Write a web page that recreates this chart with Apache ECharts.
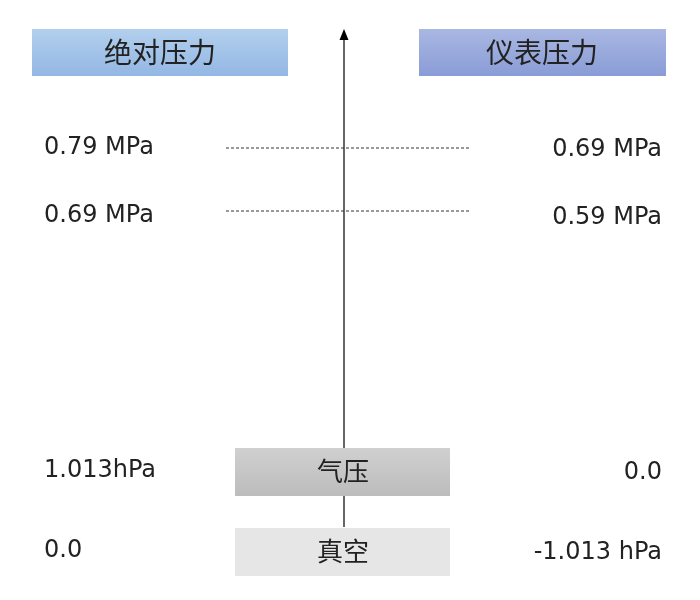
<!DOCTYPE html><html><head><meta charset="utf-8"><script src="https://cdn.jsdelivr.net/npm/echarts@6/dist/echarts.min.js"></script>
<style>html,body{margin:0;background:#fff}#c{width:700px;height:600px}</style></head><body><div id="c"></div><script>
const headers=['绝对压力','仪表压力'];
const leftLabels=['0.79 MPa','0.69 MPa','1.013hPa','0.0'];
const rightLabels=['0.69 MPa','0.59 MPa','0.0','-1.013 hPa'];
const boxLabels=['气压','真空'];
const rowY=[148,216,471,551];
const dashY=[148,211];
const F='"Noto Sans CJK SC",sans-serif';
const N='"DejaVu Sans",sans-serif';
const g=[];
function grad(a,b){return new echarts.graphic.LinearGradient(0,0,0,1,[{offset:0,color:a},{offset:1,color:b}]);}
g.push({type:'line',z:1,shape:{x1:344,y1:527,x2:344,y2:38},style:{stroke:'#000',lineWidth:1.2}});
g.push({type:'polygon',z:1,shape:{points:[[344,29],[339.5,40],[348.5,40]]},style:{fill:'#000'}});
g.push({type:'rect',z:2,shape:{x:32,y:29,width:256,height:47},style:{fill:grad('#b2cfed','#93b7e4')}});
g.push({type:'rect',z:2,shape:{x:419,y:29,width:247,height:47},style:{fill:grad('#a9b7e2','#899cd6')}});
g.push({type:'text',z:3,x:160,y:52,style:{text:headers[0],font:'28px '+F,fill:'#222',align:'center',verticalAlign:'middle'}});
g.push({type:'text',z:3,x:542,y:52,style:{text:headers[1],font:'28px '+F,fill:'#222',align:'center',verticalAlign:'middle'}});
g.push({type:'rect',z:2,shape:{x:235,y:448,width:215,height:48},style:{fill:grad('#d0d0d0','#bcbcbc')}});
g.push({type:'rect',z:2,shape:{x:235,y:528,width:215,height:48},style:{fill:'#e6e6e6'}});
g.push({type:'text',z:3,x:343,y:471,style:{text:boxLabels[0],font:'26px '+F,fill:'#222',align:'center',verticalAlign:'middle'}});
g.push({type:'text',z:3,x:343,y:551,style:{text:boxLabels[1],font:'26px '+F,fill:'#222',align:'center',verticalAlign:'middle'}});
dashY.forEach(y=>g.push({type:'line',z:1,shape:{x1:226,y1:y,x2:469,y2:y},style:{stroke:'#333',lineWidth:1,lineDash:[3,2]}}));
rowY.forEach((y,i)=>{
 g.push({type:'text',z:3,x:44,y:y,style:{text:leftLabels[i],font:'24px '+N,fill:'#222',align:'left',verticalAlign:'middle'}});
 g.push({type:'text',z:3,x:662,y:y+2,style:{text:rightLabels[i],font:'24px '+N,fill:'#222',align:'right',verticalAlign:'middle'}});
});
const c=echarts.init(document.getElementById('c'));
c.setOption({animation:false,graphic:g});
</script></body></html>
